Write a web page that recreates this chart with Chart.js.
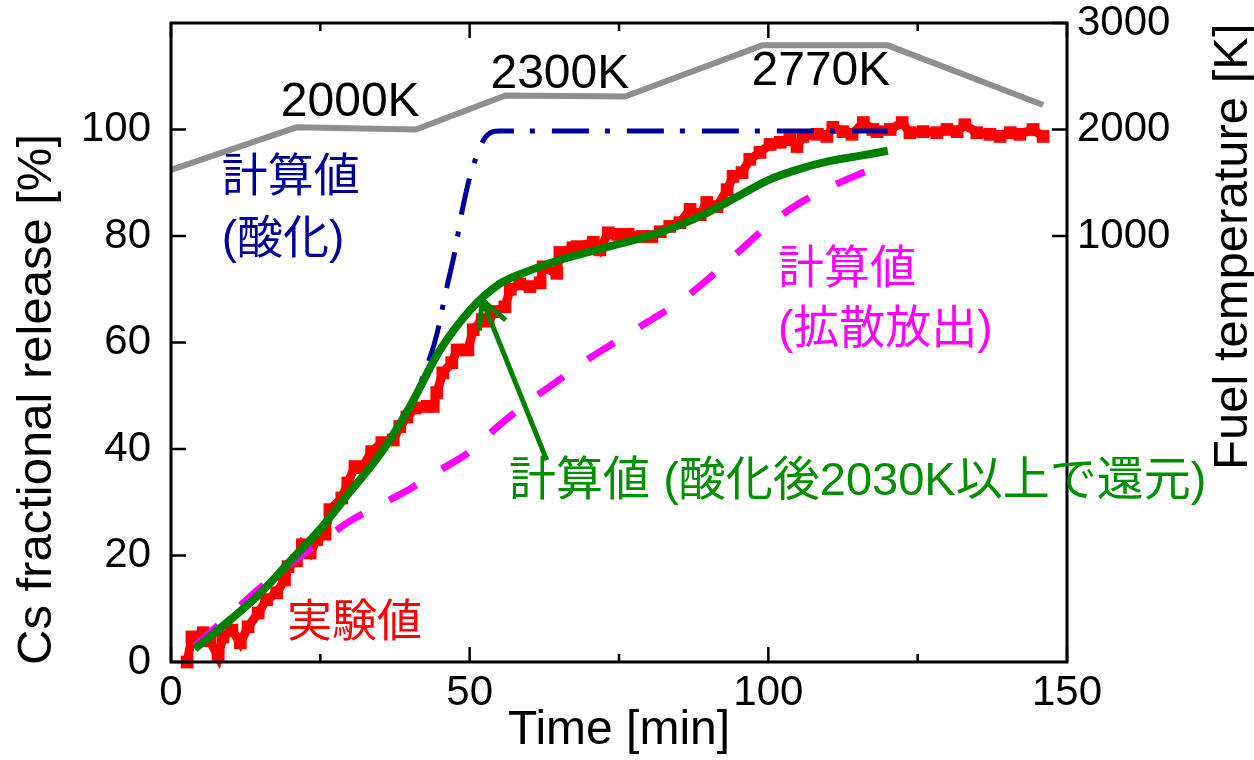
<!DOCTYPE html>
<html>
<head>
<meta charset="utf-8">
<script src="https://cdn.jsdelivr.net/npm/chart.js@4.4.0/dist/chart.umd.min.js"></script>
<style>
  html, body { margin: 0; padding: 0; background: #fff; }
  #wrap { width: 1254px; height: 760px; }
</style>
</head>
<body>
<div id="wrap"><canvas id="chart" width="1254" height="760"></canvas></div>
<script>
  // ---- data ----
  // experiment (実験値), time [min] vs Cs fractional release [%]
  const expTime = [2.7, 3.5, 5.4, 6.5, 7.9, 8.7, 10.2, 11.6, 12.9, 14.6, 16, 17.7, 19, 19.6, 21, 22, 23.3, 24.4, 25.8, 26.6,
    28.6, 29.6, 30.8, 32, 33.6, 35.3, 37.2, 38.3, 39.5, 40.9, 42.9, 43.9, 44.5, 45.5, 47, 47.9, 49.7, 50.6, 52.1, 53.1,
    54.2, 55.9, 56.8, 58.4, 60.1, 61.8, 62.3, 64.6, 65.1, 67.3, 68, 70.7, 71.8, 73.2, 74.8, 76.5, 78.9, 80.5, 81.9, 83.5,
    85.2, 86.9, 88.6, 89.7, 91.4, 93.1, 94.1, 95.6, 96.9, 98.6, 100.3, 102, 103.6, 104.8, 105.8, 108.2, 109.8, 110.8, 112.5, 114,
    115.9, 117.5, 118.2, 120.4, 122.4, 123.7, 125.9, 128.2, 129.9, 131.6, 132.9, 134.9, 137.1, 138.8, 140.5, 142.1, 144.3, 146];
  const expRelease = [0, 4.7, 5.5, 4, 1, 4.7, 6, 3.6, 6.6, 9.2, 11.7, 13, 15.4, 17.9, 19, 22, 20.5, 23, 24, 28.6,
    30.8, 33.6, 36.7, 36.5, 39.5, 41.2, 41.7, 44.2, 46, 47.7, 48, 48, 50.6, 54.3, 56.2, 58.6, 58.6, 62.4, 64.3, 64,
    65.8, 66.7, 70, 71, 70.5, 71.2, 74.2, 73, 76.9, 77.8, 78, 78.8, 77.4, 80.6, 80.3, 80.3, 79.9, 79.9, 80.8, 81.8,
    82.5, 85, 84, 86.3, 85.5, 88.7, 91.2, 91.9, 94.4, 95.7, 97.2, 97.6, 98.1, 96.8, 98.7, 99.1, 98.7, 100.4, 99.6, 99.1,
    101.3, 100, 99.6, 100, 101.3, 99.4, 99.6, 99.4, 100, 99.6, 100.9, 99.4, 99.1, 98.7, 99.4, 99.1, 100, 98.7];

  // calculations
  const calcTime = [4, 10, 15, 20, 25, 30, 35, 40, 45, 50, 55, 60, 65, 70, 75, 80, 85, 90, 95, 100, 105, 110, 115, 120];
  const reductionRelease = [2.5, 8, 13, 19, 25, 32, 39, 48, 58.5, 66, 71, 73.5, 75.5, 77, 78.5, 80, 82, 84.5, 87.5, 90.5, 92.5, 94, 95, 96];
  const diffusionRelease = [3, 9, 14, 18.5, 22.5, 26.5, 29.5, 32.5, 36, 39.5, 44.5, 49, 53, 57, 60.5, 64, 67.5, 72, 77, 82, 86, 89, 91.5, 93.5];
  const oxTime = [4, 10, 15, 20, 25, 30, 35, 40, 43, 44.5, 46, 47.5, 48.7, 50, 51, 52.6, 55, 120];
  const oxRelease = [2.5, 8, 13, 19, 25, 32, 39, 48, 56, 61.5, 69.5, 77, 84.5, 91, 94.5, 98.5, 99.7, 99.7];

  // fuel temperature [K]
  const tempTime = [0, 21, 41, 56, 76, 99, 120, 146];
  const tempK = [1620, 2020, 2000, 2320, 2310, 2790, 2790, 2230];

  // axes
  const timeTicks = [0, 50, 100, 150];
  const timeMinorTicks = [25, 75, 125];
  const releaseTicks = [0, 20, 40, 60, 80, 100];
  const tempTicks = [1000, 2000, 3000];

  const FONT = '"Liberation Sans", Arial, "Noto Sans CJK JP", sans-serif';

  const notesList = [
    { text: '2000K', t: 30, v: 105, color: '#000', size: 48, align: 'center' },
    { text: '2300K', t: 65.1, v: 110.2, color: '#000', size: 48, align: 'center' },
    { text: '2770K', t: 108.8, v: 110.8, color: '#000', size: 48, align: 'center' },
    { text: '計算値', t: 8.5, v: 90.9, color: '#000099', size: 46, align: 'left' },
    { text: '(酸化)', t: 8.5, v: 79.2, color: '#000099', size: 46, align: 'left' },
    { text: '計算値', t: 101.6, v: 73.6, color: '#ff00ff', size: 46, align: 'left' },
    { text: '(拡散放出)', t: 101.6, v: 62.3, color: '#ff00ff', size: 46, align: 'left' },
    { text: '計算値 (酸化後2030K以上で還元)', t: 56.6, v: 33.8, color: '#008f00', size: 47, align: 'left' },
    { text: '実験値', t: 19.4, v: 7.1, color: '#ff0000', size: 45, align: 'left' }
  ];
  const arrowTip = { t: 52.1, v: 68 };
  const arrowTail = { t: 62.9, v: 37.9 };

  const pts = (xs, ys) => xs.map((x, i) => ({ x, y: ys[i] }));

  // frame and inward tick marks
  const frame = {
    id: 'frame',
    afterDatasetsDraw(chart) {
      const { ctx, chartArea: a, scales: { x, y, y2 } } = chart;
      ctx.save();
      ctx.strokeStyle = '#000';
      ctx.lineWidth = 2.5;
      ctx.beginPath();
      releaseTicks.forEach(v => {
        const py = y.getPixelForValue(v);
        ctx.moveTo(a.left, py); ctx.lineTo(a.left + 15, py);
      });
      tempTicks.forEach(v => {
        const py = y2.getPixelForValue(v);
        ctx.moveTo(a.right, py); ctx.lineTo(a.right - 15, py);
      });
      timeTicks.forEach(v => {
        const px = x.getPixelForValue(v);
        ctx.moveTo(px, a.bottom); ctx.lineTo(px, a.bottom - 15);
        ctx.moveTo(px, a.top); ctx.lineTo(px, a.top + 15);
      });
      timeMinorTicks.forEach(v => {
        const px = x.getPixelForValue(v);
        ctx.moveTo(px, a.bottom); ctx.lineTo(px, a.bottom - 8);
        ctx.moveTo(px, a.top); ctx.lineTo(px, a.top + 8);
      });
      ctx.stroke();
      ctx.lineWidth = 3;
      ctx.strokeRect(a.left, a.top, a.right - a.left, a.bottom - a.top);
      ctx.restore();
    }
  };

  // labels inside the plot, arrow, and the two rotated axis titles
  const notes = {
    id: 'notes',
    afterDraw(chart) {
      const { ctx, chartArea: a, scales: { x, y } } = chart;
      ctx.save();
      ctx.textBaseline = 'middle';
      notesList.forEach(n => {
        ctx.font = n.size + 'px ' + FONT;
        ctx.fillStyle = n.color;
        ctx.textAlign = n.align;
        ctx.fillText(n.text, x.getPixelForValue(n.t), y.getPixelForValue(n.v));
      });

      // arrow pointing at the green curve
      const tx = x.getPixelForValue(arrowTip.t), ty = y.getPixelForValue(arrowTip.v);
      const sx = x.getPixelForValue(arrowTail.t), sy = y.getPixelForValue(arrowTail.v);
      const ang = Math.atan2(sy - ty, sx - tx);
      ctx.strokeStyle = '#008000';
      ctx.lineWidth = 5;
      ctx.lineCap = 'butt';
      ctx.beginPath();
      ctx.moveTo(sx, sy); ctx.lineTo(tx, ty);
      [-0.48, 0.48].forEach(d => {
        ctx.moveTo(tx, ty);
        ctx.lineTo(tx + 31 * Math.cos(ang + d), ty + 31 * Math.sin(ang + d));
      });
      ctx.stroke();

      // y titles (both read bottom-to-top)
      ctx.fillStyle = '#000';
      ctx.font = '49px ' + FONT;
      ctx.textAlign = 'left';
      ctx.save();
      ctx.translate(a.left - 134, a.bottom + 3);
      ctx.rotate(-Math.PI / 2);
      ctx.fillText('Cs fractional release [%]', 0, 0);
      ctx.restore();
      ctx.save();
      ctx.translate(a.right + 166, 470);
      ctx.rotate(-Math.PI / 2);
      ctx.fillText('Fuel temperature [K]', 0, 0);
      ctx.restore();
      ctx.restore();
    }
  };

  const tickFont = { family: FONT, size: 42, lineHeight: 1 };
  const plain = v => String(v);

  new Chart(document.getElementById('chart').getContext('2d'), {
    type: 'line',
    data: {
      datasets: [
        {
          label: '計算値 (酸化後2030K以上で還元)',
          data: pts(calcTime, reductionRelease),
          borderColor: '#008000', borderWidth: 8, pointRadius: 0,
          cubicInterpolationMode: 'monotone', yAxisID: 'y'
        },
        {
          label: '計算値 (酸化)',
          data: pts(oxTime, oxRelease),
          borderColor: '#000099', borderWidth: 5, pointRadius: 0,
          borderDash: [37, 16, 5, 17],
          cubicInterpolationMode: 'monotone', yAxisID: 'y'
        },
        {
          label: '計算値 (拡散放出)',
          data: pts(calcTime, diffusionRelease),
          borderColor: '#ff00ff', borderWidth: 7, pointRadius: 0,
          borderDash: [31, 30],
          cubicInterpolationMode: 'monotone', yAxisID: 'y'
        },
        {
          label: '実験値',
          data: pts(expTime, expRelease),
          borderColor: '#ff0000', backgroundColor: '#ff0000', borderWidth: 9,
          pointStyle: 'rect', pointRadius: 9, pointBorderWidth: 0,
          pointBackgroundColor: '#ff0000',
          tension: 0, clip: false, yAxisID: 'y'
        },
        {
          label: 'Fuel temperature',
          data: pts(tempTime, tempK),
          borderColor: '#8f8f8f', borderWidth: 6, pointRadius: 0,
          tension: 0, yAxisID: 'y2'
        }
      ]
    },
    options: {
      responsive: false,
      animation: false,
      layout: { padding: { top: 23, left: 0, right: 0, bottom: 0 } },
      plugins: { legend: { display: false }, tooltip: { enabled: false } },
      scales: {
        x: {
          type: 'linear', min: 0, max: 150,
          afterBuildTicks: s => { s.ticks = timeTicks.map(v => ({ value: v })); },
          ticks: { font: tickFont, color: '#000', padding: 10, maxRotation: 0, autoSkip: false, callback: plain },
          grid: { display: false, drawTicks: false },
          border: { display: false },
          title: { display: true, text: 'Time [min]', color: '#000', font: { family: FONT, size: 48 }, padding: 0 },
          afterFit: s => { s.height = 98; s.paddingLeft = 0; s.paddingRight = 0; }
        },
        y: {
          position: 'left', min: 0, max: 120,
          afterBuildTicks: s => { s.ticks = releaseTicks.map(v => ({ value: v })); },
          ticks: { font: tickFont, color: '#000', padding: 20, autoSkip: false, callback: plain },
          grid: { display: false, drawTicks: false },
          border: { display: false },
          afterFit: s => { s.width = 171; s.paddingTop = 0; s.paddingBottom = 0; }
        },
        y2: {
          position: 'right', min: -3000, max: 3000,
          afterBuildTicks: s => { s.ticks = tempTicks.map(v => ({ value: v })); },
          ticks: { font: tickFont, color: '#000', padding: 10, autoSkip: false, callback: plain },
          grid: { display: false, drawTicks: false },
          border: { display: false },
          afterFit: s => { s.width = 187; s.paddingTop = 0; s.paddingBottom = 0; }
        }
      }
    },
    plugins: [frame, notes]
  });
</script>
</body>
</html>
